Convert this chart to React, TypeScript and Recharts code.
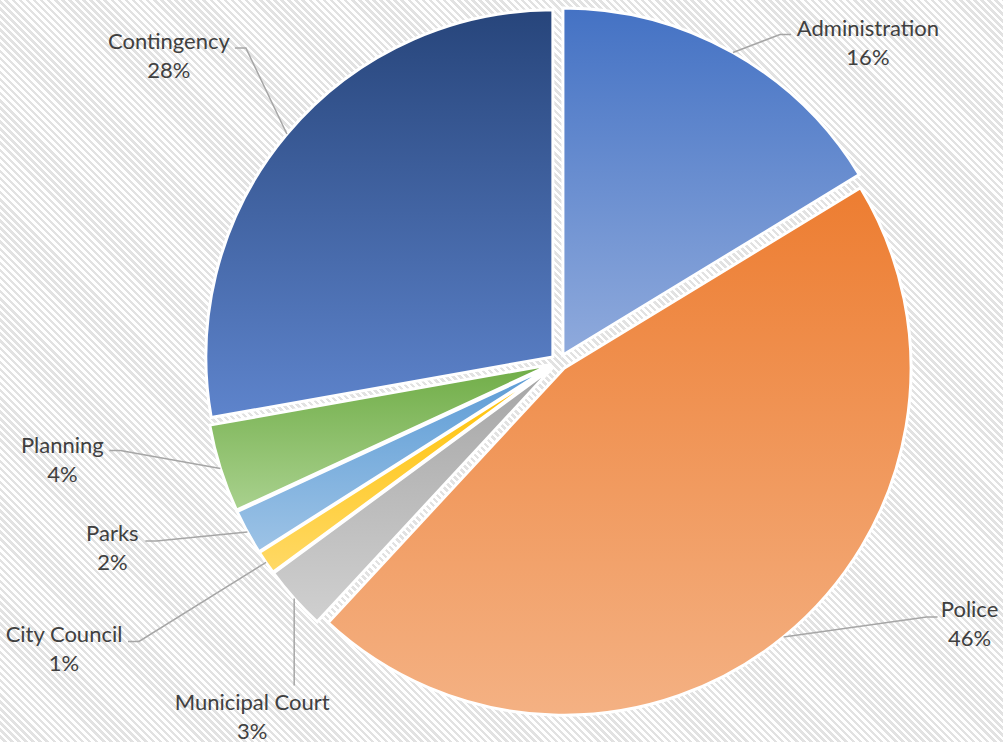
import React from 'react';
import { PieChart, Pie, Cell, Sector } from 'recharts';

// ---- data ----
const categories = [
  'Administration',
  'Police',
  'Municipal Court',
  'City Council',
  'Parks',
  'Planning',
  'Contingency'
];
const budgetShare = [16.3, 45.6, 3.0, 1.1, 2.1, 4.1, 27.8];

// gradient stops per slice (top -> bottom)
const topColors = ['#4472c4', '#ed7d31', '#a5a5a5', '#ffc000', '#5b9bd5', '#70ad47', '#27457b'];
const bottomColors = ['#8faadc', '#f4b183', '#d0d0d0', '#ffd966', '#9dc3e6', '#a9d18e', '#5e84cc'];

// label placement relative to the slice edge point (t*) and leader end relative to text (e*)
const LABEL_LAYOUT = [
  { tx: 135, ty: -17, ex: -77, ey: -1 },
  { tx: 186, ty: -20, ex: -32, ey: 0 },
  { tx: -42, ty: 112, ex: 42, ey: -25, vertical: true },
  { tx: -202, ty: 80, ex: 64, ey: -1 },
  { tx: -135, ty: 9, ex: 33, ey: 0 },
  { tx: -158, ty: -16, ex: 47, ey: -2 },
  { tx: -118, ty: -85, ex: 66, ey: -1 }
];

const chartData = categories.map((name, i) => ({ name, value: budgetShare[i] }));

const WIDTH = 1003;
const HEIGHT = 742;
const CX = 559;
const CY = 362;
const RADIUS = 347;
const EXPLODE = 8;
const FONT = 'Lato, "Open Sans", "Liberation Sans", sans-serif';

const ExplodedSlice = (props: any) => {
  const { cx, cy, midAngle } = props;
  const rad = (-midAngle * Math.PI) / 180;
  return (
    <Sector
      {...props}
      cx={cx + EXPLODE * Math.cos(rad)}
      cy={cy + EXPLODE * Math.sin(rad)}
    />
  );
};

const renderLabel = (props: any) => {
  const { cx, cy, midAngle, outerRadius, index, percent, name } = props;
  const rad = (-midAngle * Math.PI) / 180;
  const ax = cx + (outerRadius + EXPLODE) * Math.cos(rad);
  const ay = cy + (outerRadius + EXPLODE) * Math.sin(rad);
  const lay = LABEL_LAYOUT[index];
  const tx = ax + lay.tx;
  const ty = ay + lay.ty;
  const ex = tx + lay.ex;
  const ey = ty + lay.ey;
  const bx = lay.vertical ? ex : ex + (lay.ex > 0 ? 11 : -11);
  const pts = lay.vertical
    ? `${ax},${ay} ${ex},${ey}`
    : `${ax},${ay} ${bx},${ey} ${ex},${ey}`;

  return (
    <g key={`label-${index}`}>
      <polyline points={pts} fill="none" stroke="#a6a6a6" strokeWidth={1.5} />
      <text x={tx} y={ty} textAnchor="middle" fill="#404040" fontSize={22} fontFamily={FONT}>
        {name}
      </text>
      <text x={tx} y={ty + 29} textAnchor="middle" fill="#404040" fontSize={22} fontFamily={FONT}>
        {`${Math.round(percent * 100)}%`}
      </text>
    </g>
  );
};

export default function App() {
  return (
    <div
      style={{
        position: 'absolute',
        left: 0,
        top: 0,
        width: WIDTH,
        height: HEIGHT,
        background:
          'repeating-linear-gradient(45deg, #ffffff 0px, #ffffff 2.5px, #e2e2e2 2.5px, #e2e2e2 5px)'
      }}
    >
      <PieChart width={WIDTH} height={HEIGHT} margin={{ top: 0, right: 0, bottom: 0, left: 0 }}>
        <defs>
          {categories.map((c, i) => (
            <linearGradient key={c} id={`slice-grad-${i}`} x1="0" y1="0" x2="0" y2="1">
              <stop offset="0%" stopColor={topColors[i]} />
              <stop offset="100%" stopColor={bottomColors[i]} />
            </linearGradient>
          ))}
        </defs>
        <Pie
          data={chartData}
          dataKey="value"
          nameKey="name"
          cx={CX}
          cy={CY}
          outerRadius={RADIUS}
          startAngle={90}
          endAngle={-270}
          stroke="#ffffff"
          strokeWidth={3}
          shape={ExplodedSlice}
          label={renderLabel}
          labelLine={false}
          isAnimationActive={false}
        >
          {chartData.map((d, i) => (
            <Cell key={d.name} fill={`url(#slice-grad-${i})`} />
          ))}
        </Pie>
      </PieChart>
    </div>
  );
}
